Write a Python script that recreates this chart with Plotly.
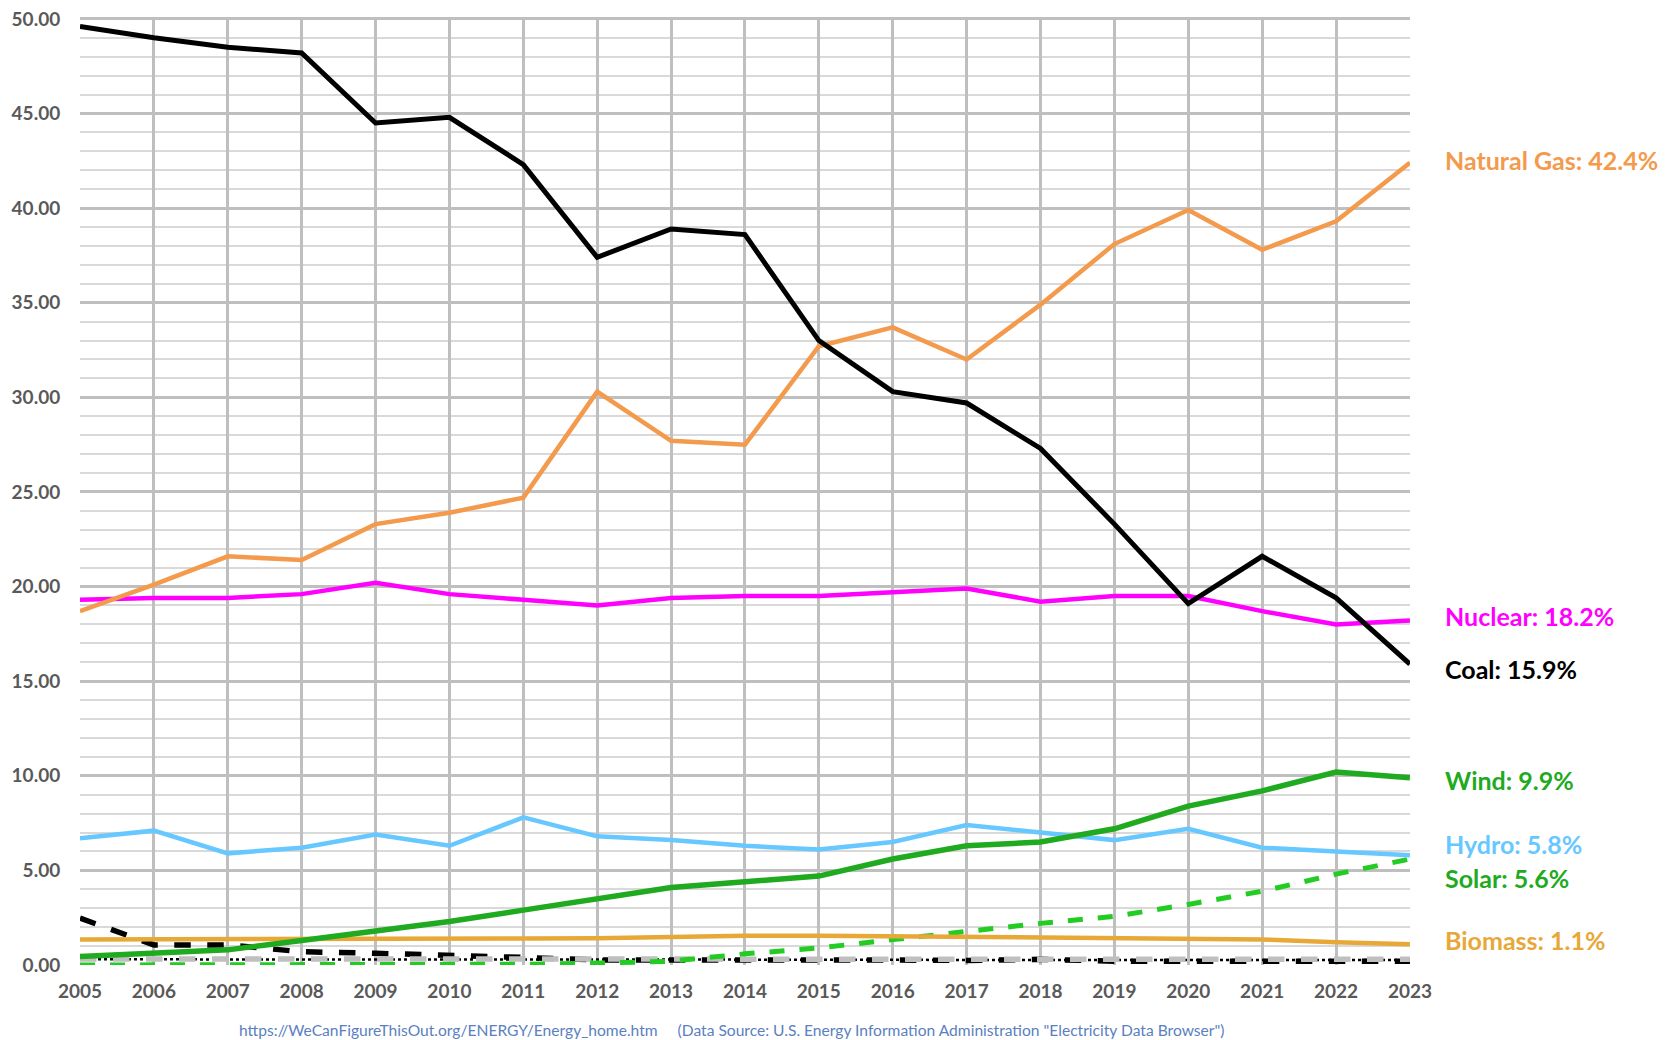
import plotly.graph_objects as go

years = list(range(2005, 2024))

coal = [49.6, 49.0, 48.5, 48.2, 44.5, 44.8, 42.3, 37.4, 38.9, 38.6,
        33.0, 30.3, 29.7, 27.3, 23.3, 19.1, 21.6, 19.4, 15.9]
natural_gas = [18.7, 20.1, 21.6, 21.4, 23.3, 23.9, 24.7, 30.3, 27.7, 27.5,
               32.7, 33.7, 32.0, 34.9, 38.1, 39.9, 37.8, 39.3, 42.4]
nuclear = [19.3, 19.4, 19.4, 19.6, 20.2, 19.6, 19.3, 19.0, 19.4, 19.5,
           19.5, 19.7, 19.9, 19.2, 19.5, 19.5, 18.7, 18.0, 18.2]
hydro = [6.7, 7.1, 5.9, 6.2, 6.9, 6.3, 7.8, 6.8, 6.6, 6.3,
         6.1, 6.5, 7.4, 7.0, 6.6, 7.2, 6.2, 6.0, 5.8]
wind = [0.45, 0.65, 0.8, 1.3, 1.8, 2.3, 2.9, 3.5, 4.1, 4.4,
        4.7, 5.6, 6.3, 6.5, 7.2, 8.4, 9.2, 10.2, 9.9]
solar = [0.0, 0.0, 0.0, 0.0, 0.0, 0.02, 0.04, 0.1, 0.2, 0.59,
         0.9, 1.34, 1.8, 2.2, 2.57, 3.2, 3.9, 4.8, 5.6]
biomass = [1.35, 1.35, 1.35, 1.38, 1.4, 1.4, 1.4, 1.42, 1.48, 1.55,
           1.55, 1.52, 1.5, 1.45, 1.42, 1.38, 1.35, 1.2, 1.1]
petroleum = [2.48, 1.06, 1.06, 0.7, 0.62, 0.53, 0.4, 0.27, 0.28, 0.3,
             0.3, 0.26, 0.24, 0.3, 0.2, 0.2, 0.2, 0.2, 0.2]
other_gases = [0.32, 0.32, 0.32, 0.32, 0.3, 0.3, 0.32, 0.32, 0.32, 0.32,
               0.32, 0.32, 0.32, 0.32, 0.3, 0.32, 0.3, 0.32, 0.3]
other = [0.3, 0.3, 0.3, 0.28, 0.28, 0.28, 0.28, 0.28, 0.28, 0.28,
         0.28, 0.28, 0.26, 0.26, 0.26, 0.26, 0.26, 0.26, 0.26]

labels = ["Natural Gas: 42.4%", "Nuclear: 18.2%", "Coal: 15.9%", "Wind: 9.9%",
          "Hydro: 5.8%", "Solar: 5.6%", "Biomass: 1.1%"]
label_y = [42.55, 18.43, 15.63, 9.77, 6.39, 4.59, 1.32]
label_colors = ["#F39A4D", "#FF00FF", "#000000", "#1FAA1F",
                "#66C8FF", "#1FAA1F", "#E8A838"]

fig = go.Figure()


def add_line(y, color, width=5, dash="solid"):
    fig.add_trace(go.Scatter(x=years, y=y, mode="lines",
                             line=dict(color=color, width=width, dash=dash)))


add_line(other, "#000000", 2.5, "dot")
add_line(petroleum, "#000000", 5.5, "dash")
add_line(other_gases, "#BFBFBF", 5.5, "dash")
add_line(solar, "#22CC22", 5, "dash")
add_line(biomass, "#E8A838", 4.5)
add_line(hydro, "#66C8FF", 4.5)
add_line(wind, "#1FAA1F", 5.5)
add_line(nuclear, "#FF00FF", 4.5)
add_line(natural_gas, "#F39A4D", 4.5)
add_line(coal, "#000000", 5)

for text, yv, col in zip(labels, label_y, label_colors):
    fig.add_annotation(x=1, xref="paper", y=yv, yref="y", text=f"<b>{text}</b>",
                       showarrow=False, xanchor="left", xshift=33,
                       font=dict(size=25, color=col, family="Lato"))

# source line under the x axis
fig.add_annotation(
    x=0.0, xref="paper", y=-0.0686, yref="paper", yanchor="middle",
    xanchor="left", xshift=157, showarrow=False,
    text='https://WeCanFigureThisOut.org/ENERGY/Energy_home.htm'
         '&nbsp;&nbsp;&nbsp;&nbsp;&nbsp;(Data Source: U.S. Energy Information '
         'Administration "Electricity Data Browser")',
    font=dict(size=15.6, color="#5B7FC0", family="Lato"))

tick_font = dict(size=19, color="#595959", family="Lato")
fig.update_xaxes(range=[2005, 2023.001], dtick=1, tick0=2005, showgrid=True,
                 gridcolor="#BFBFBF", gridwidth=2.5, zeroline=False,
                 showline=False, ticks="outside", ticklen=9,
                 tickcolor="rgba(0,0,0,0)", automargin=False,
                 ticklabeloverflow="allow",
                 tickfont=tick_font, tickprefix="<b>", ticksuffix="</b>")
fig.update_yaxes(range=[0, 50.1], dtick=5, tickformat=".2f", showgrid=True,
                 gridcolor="#BFBFBF", gridwidth=2.5, zeroline=False,
                 ticks="outside", ticklen=15, tickcolor="rgba(0,0,0,0)",
                 automargin=False, ticklabeloverflow="allow",
                 tickprefix="<b>", ticksuffix="</b>",
                 tickfont=tick_font,
                 minor=dict(dtick=1, showgrid=True, gridcolor="#D9D9D9",
                            gridwidth=1.5))

# page body adds 8px, so the figure is a little smaller than the window
fig.update_layout(
    width=1663, height=1032,
    margin=dict(l=72, r=261, t=9, b=75),
    paper_bgcolor="white", plot_bgcolor="white",
    showlegend=False, hovermode=False,
)

fig.write_html("out.html")
